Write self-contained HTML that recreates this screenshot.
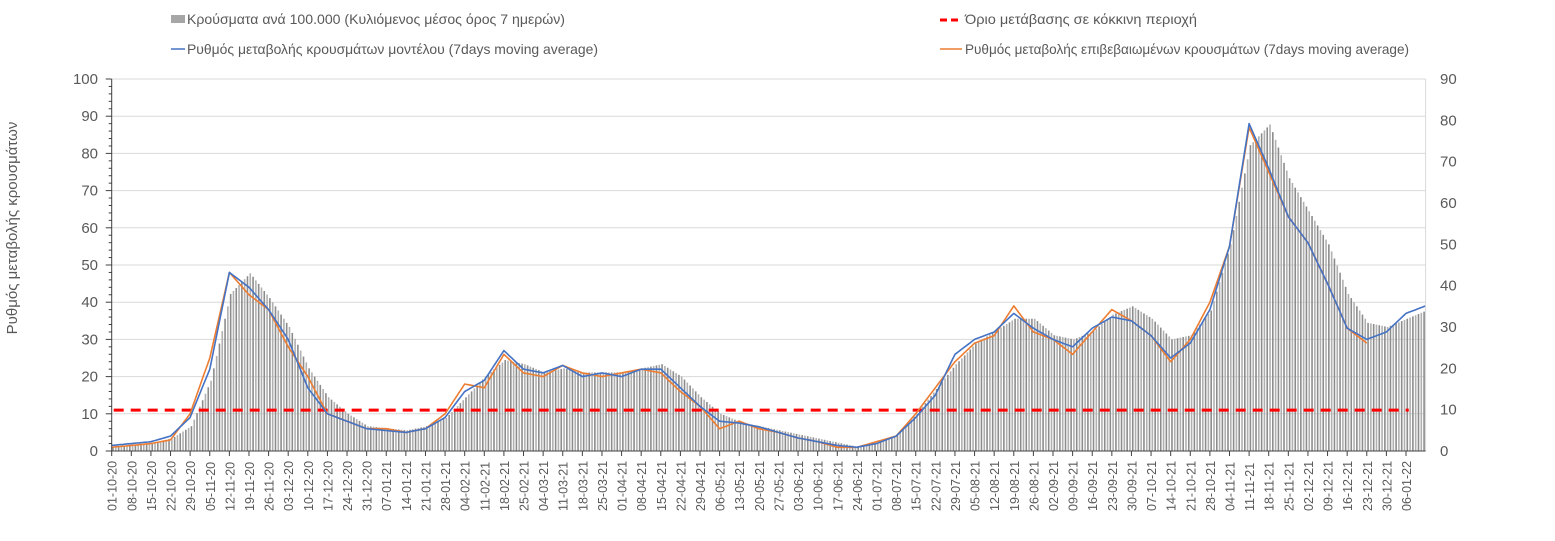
<!DOCTYPE html>
<html><head><meta charset="utf-8"><style>
html,body{margin:0;padding:0;background:#fff;}
svg text{font-family:"Liberation Sans Narrow","Liberation Sans",sans-serif;fill:#595959;}
</style></head><body>
<svg id="chart" width="1555" height="536" viewBox="0 0 1555 536" xmlns="http://www.w3.org/2000/svg">
<g id="grid"></g>
<g id="bars"></g>
<g id="lines"></g>
<g id="axes"></g>
<text transform="translate(17,228) rotate(-90)" text-anchor="middle" font-size="15" style="font-family:'Liberation Sans',sans-serif" fill="#000">Ρυθμός μεταβολής κρουσμάτων</text>
<g>
<rect x="171" y="15" width="14" height="8" fill="#a6a6a6"/>
<text x="187" y="24" font-size="14" textLength="378" lengthAdjust="spacingAndGlyphs">Κρούσματα ανά 100.000 (Κυλιόμενος μέσος όρος 7 ημερών)</text>
<line x1="171" y1="49" x2="185" y2="49" stroke="#4472c4" stroke-width="1.5"/>
<text x="187" y="54" font-size="14" textLength="411" lengthAdjust="spacingAndGlyphs">Ρυθμός μεταβολής κρουσμάτων μοντέλου (7days moving average)</text>
<line x1="940" y1="20" x2="962" y2="20" stroke="#ff0000" stroke-width="3" stroke-dasharray="7,4"/>
<text x="965" y="24" font-size="14" textLength="232" lengthAdjust="spacingAndGlyphs">Όριο μετάβασης σε κόκκινη περιοχή</text>
<line x1="940" y1="49" x2="962" y2="49" stroke="#ed7d31" stroke-width="1.5"/>
<text x="965" y="54" font-size="14" textLength="444" lengthAdjust="spacingAndGlyphs">Ρυθμός μεταβολής επιβεβαιωμένων κρουσμάτων (7days moving average)</text>
</g>
</svg>
<script>
const weekLabels=["01-10-20","08-10-20","15-10-20","22-10-20","29-10-20","05-11-20","12-11-20","19-11-20","26-11-20","03-12-20","10-12-20","17-12-20","24-12-20","31-12-20","07-01-21","14-01-21","21-01-21","28-01-21","04-02-21","11-02-21","18-02-21","25-02-21","04-03-21","11-03-21","18-03-21","25-03-21","01-04-21","08-04-21","15-04-21","22-04-21","29-04-21","06-05-21","13-05-21","20-05-21","27-05-21","03-06-21","10-06-21","17-06-21","24-06-21","01-07-21","08-07-21","15-07-21","22-07-21","29-07-21","05-08-21","12-08-21","19-08-21","26-08-21","02-09-21","09-09-21","16-09-21","23-09-21","30-09-21","07-10-21","14-10-21","21-10-21","28-10-21","04-11-21","11-11-21","18-11-21","25-11-21","02-12-21","09-12-21","16-12-21","23-12-21","30-12-21","06-01-22"];
const barValues=[1,1.5,2,3,6,17,38,43,37,30,20,13,9,6,5.5,5,6,8,13,18,22,21,19,20,19,19,19,20,21,18,13,9,7,6,5,4,3,2,1,2,4,9,15,21,26,29,32,32,28,27,29,33,35,32,27,28,34,50,74,79,66,58,50,38,31,30,32,34];
const modelValues=[1.5,2,2.5,4,9,22,48,44,38,30,17,10,8,6,5.5,5,6,9,16,19,27,22,21,23,20,21,20,22,22,17,12,8,7.5,6.5,5,3.5,2.5,1.5,1,2,4,9,15,26,30,32,37,33,30,28,33,36,35,31,25,29,38,55,88,76,63,56,45,33,30,32,37,39];
const confirmedValues=[1,1.5,2,3,10,25,48,42,38,28,20,10,8,6,6,5,6,10,18,17,26,21,20,23,21,20,21,22,21,16,12,6,8,6,5,3.5,2.5,1,1,2.5,4,10,17,24,29,31,39,32,30,26,32,38,35,31,24,30,40,55,87,75,63,56,45,33,29];
const leftTicks=[0,10,20,30,40,50,60,70,80,90,100];
const rightTicks=[0,10,20,30,40,50,60,70,80,90];
const threshold=11;
const totalDays=469;

const NS="http://www.w3.org/2000/svg";
const X0=111.7, PXD=2.8015, Y0=451, YT=79;
const xDay=d=>X0+d*PXD;
const yL=v=>Y0-v*(Y0-YT)/100;
const yR=v=>Y0-v*(Y0-YT)/90;
function mk(tag,attrs,parent){const e=document.createElementNS(NS,tag);for(const k in attrs)e.setAttribute(k,attrs[k]);parent.appendChild(e);return e;}
const grid=document.getElementById('grid'),bars=document.getElementById('bars'),lines=document.getElementById('lines'),axes=document.getElementById('axes');
const xEnd=xDay(totalDays);
leftTicks.forEach(v=>{
  if(v>0){const g=mk('line',{x1:X0,x2:xEnd,y1:yL(v),y2:yL(v),stroke:'#d9d9d9','stroke-width':1},grid);
  
  }
  const t=mk('text',{x:98,y:yL(v)+5,'text-anchor':'end','font-size':15},axes);t.textContent=v;
  
  
  mk('line',{x1:X0-6,x2:X0,y1:yL(v),y2:yL(v),stroke:'#404040'},axes);
  if(v<100)[2,4,6,8].forEach(m=>mk('line',{x1:X0-3,x2:X0,y1:yL(v+m),y2:yL(v+m),stroke:'#404040'},axes));
});
rightTicks.forEach(v=>{
  const t=mk('text',{x:1440,y:yR(v)+5,'font-size':15},axes);t.textContent=v;
  
  
});
mk('line',{x1:X0,x2:X0,y1:YT,y2:Y0,stroke:'#404040'},axes);
mk('line',{x1:xEnd,x2:xEnd,y1:YT,y2:Y0,stroke:'#d9d9d9'},axes);
mk('line',{x1:X0,x2:xEnd,y1:Y0,y2:Y0,stroke:'#404040'},axes);
weekLabels.forEach((lab,i)=>{
  const x=xDay(i*7);
  mk('line',{x1:x,x2:x,y1:Y0,y2:Y0+5,stroke:'#404040'},axes);
  const t=mk('text',{transform:`translate(${x+5},${Y0+60}) rotate(-90)`,'font-size':12.5,fill:'#404040'},axes);
  t.textContent=lab;
  
  
});
function valAt(arr,d){const f=d/7,i=Math.floor(f),r=f-i;if(i>=arr.length-1)return arr[arr.length-1];return arr[i]*(1-r)+arr[i+1]*r;}
for(let d=0;d<totalDays;d++){
  const v=valAt(barValues,d);
  const b=mk('rect',{x:xDay(d)+0.5,y:yR(v),width:1.6,height:Y0-yR(v),fill:d%2?'#b0b0b0':'#8c8c8c'},bars);
  
  
}
function drawLine(arr,color,name,maxDay){
  let pts=[];
  for(let d=0;d<=maxDay;d++)pts.push(xDay(d).toFixed(1)+','+yL(valAt(arr,d)).toFixed(1));
  const p=mk('polyline',{points:pts.join(' '),fill:'none',stroke:color,'stroke-width':1.6,'stroke-linejoin':'round'},lines);
  
  
}
const th=mk('line',{x1:X0+2,x2:xDay(463),y1:yL(threshold),y2:yL(threshold),stroke:'#ff0000','stroke-width':3,'stroke-dasharray':'10,7'},lines);


drawLine(confirmedValues,'#ed7d31','confirmed-line',(confirmedValues.length-1)*7);
drawLine(modelValues,'#4472c4','model-line',totalDays);
</script>
</body></html>
